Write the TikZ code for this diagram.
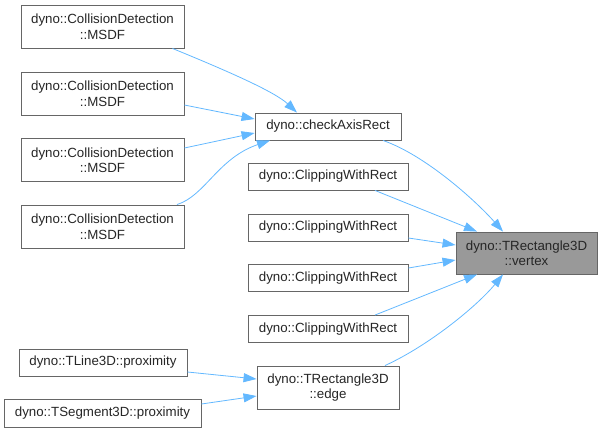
\documentclass[tikz,border=0pt]{standalone}
\usepackage{fontspec}
\setmainfont{Liberation Sans}
\usetikzlibrary{arrows.meta}
\definecolor{edgeblue}{HTML}{63B8FF}
\definecolor{bordergray}{HTML}{666666}
\definecolor{fillgray}{HTML}{999999}
\begin{document}
\begin{tikzpicture}[x=1pt,y=-1pt,
  box/.style={draw=bordergray, line width=0.9pt, fill=white, inner sep=0pt, align=center,
    font=\fontsize{13.3}{15.5}\selectfont, text=black!85},
  hl/.style={box, fill=fillgray},
  link/.style={draw=edgeblue, line width=0.8pt, -{Triangle[length=13pt,width=9pt]}}]
\useasboundingbox (0,0) rectangle (603,432);
\node[box, minimum width=163pt, minimum height=43pt] (m1) at (102.5,26.5) {dyno::CollisionDetection\\::MSDF};
\node[box, minimum width=163pt, minimum height=43pt] (m2) at (102.5,93.5) {dyno::CollisionDetection\\::MSDF};
\node[box, minimum width=163pt, minimum height=43pt] (m3) at (102.5,160) {dyno::CollisionDetection\\::MSDF};
\node[box, minimum width=163pt, minimum height=43pt] (m4) at (102.5,226.5) {dyno::CollisionDetection\\::MSDF};
\node[box, minimum width=146pt, minimum height=27pt] (check) at (328,126.5) {dyno::checkAxisRect};
\node[box, minimum width=160pt, minimum height=27pt] (c1) at (328,176.5) {dyno::ClippingWithRect};
\node[box, minimum width=160pt, minimum height=27pt] (c2) at (328,227.5) {dyno::ClippingWithRect};
\node[box, minimum width=160pt, minimum height=27pt] (c3) at (328,278) {dyno::ClippingWithRect};
\node[box, minimum width=160pt, minimum height=27pt] (c4) at (328,329) {dyno::ClippingWithRect};
\node[hl, minimum width=141pt, minimum height=42pt] (vertex) at (526.5,253) {dyno::TRectangle3D\\::vertex};
\node[box, minimum width=142pt, minimum height=43pt] (redge) at (328,387.5) {dyno::TRectangle3D\\::edge};
\node[box, minimum width=168pt, minimum height=27pt] (tline) at (103,362.5) {dyno::TLine3D::proximity};
\node[box, minimum width=197pt, minimum height=28pt] (tseg) at (102.5,413) {dyno::TSegment3D::proximity};

\draw[link] ([xshift=-12pt]m1.south east) .. controls (230,72) and (275,92) .. ([xshift=-31pt]check.north);
\draw[link] ([yshift=-11.5pt]m2.east) -- ([yshift=7.5pt]check.west);
\draw[link] ([yshift=12pt]m3.east) -- ([yshift=-6.5pt]check.west);
\draw[link] ([xshift=-7.5pt]m4.north east) .. controls (205,196) and (218,158) .. ([xshift=-58pt]check.south);
\draw[link] ([xshift=55pt]check.south) .. controls (425,155) and (475,200) .. ([xshift=-23.5pt]vertex.north);
\draw[link] ([xshift=47pt]c1.south) -- ([xshift=-49.5pt]vertex.north);
\draw[link] ([yshift=-10.5pt]c2.east) -- ([yshift=8pt]vertex.west);
\draw[link] ([yshift=10pt]c3.east) -- ([yshift=-7pt]vertex.west);
\draw[link] ([xshift=47pt]c4.north) -- ([xshift=-49.5pt]vertex.south);
\draw[link] ([xshift=57pt]redge.north) .. controls (430,345) and (478,305) .. ([xshift=-23.5pt]vertex.south);
\draw[link] ([yshift=-9.5pt]tline.east) -- ([yshift=8.5pt]redge.west);
\draw[link] ([yshift=9pt]tseg.east) -- ([yshift=-8.5pt]redge.west);
\end{tikzpicture}
\end{document}
